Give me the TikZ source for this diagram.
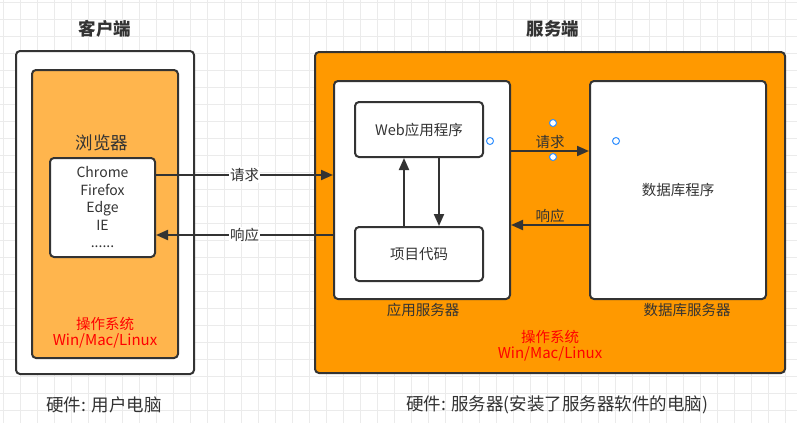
\documentclass[tikz,border=0pt]{standalone}
\usepackage{fontspec}
\setmainfont{Noto Sans CJK SC}
\usetikzlibrary{arrows.meta,positioning}
\definecolor{ink}{HTML}{333333}
\definecolor{gridc}{HTML}{EBEBEB}
\definecolor{lightorange}{HTML}{FFB54D}
\definecolor{deeporange}{HTML}{FF9900}
\definecolor{handle}{HTML}{2F8FFF}
\begin{document}
\begin{tikzpicture}[x=1pt,y=-1pt,
  box/.style={draw=ink,line width=2pt,rounded corners=4pt,fill=white,align=center,
    text=ink,inner sep=0pt},
  arr/.style={-{Triangle[length=12pt,width=10pt]},line width=2pt,draw=ink},
  lbl/.style={text=ink,font=\fontsize{14.5}{17}\selectfont,inner sep=1pt},
  big/.style={text=ink,font=\fontsize{17.5}{20}\selectfont},
  oslbl/.style={text=red,align=center,inner sep=0pt}
]
  \useasboundingbox (0,0) rectangle (797,423);
  \fill[white] (0,0) rectangle (797,423);
  \foreach \gx in {3.3,20.3,...,797} \draw[gridc,line width=0.8pt] (\gx,0) -- (\gx,423);
  \foreach \gy in {2.3,19.3,...,423} \draw[gridc,line width=0.8pt] (0,\gy) -- (797,\gy);

  \node[big,font=\bfseries\fontsize{17.5}{20}\selectfont] (ctitle) at (105,29) {客户端};
  \node[box,minimum width=178pt,minimum height=323pt] (client) at (105,212.5) {};
  \node[box,fill=lightorange,minimum width=146pt,minimum height=288pt] (clientos) at (105,214) {};
  \node[big] (brtitle) at (102,143) {浏览器};
  \node[box,minimum width=105pt,minimum height=99pt,font=\fontsize{14}{17.5}\selectfont] (browser) at (102.5,207.5)
    {Chrome\\Firefox\\Edge\\IE\\......};
  \node[oslbl,font=\fontsize{14.5}{16}\selectfont] (cos) at (105,324) {操作系统};
  \node[oslbl,font=\fontsize{15}{17}\selectfont] (cosname) at (105,341) {Win/Mac/Linux};
  \node[big] (chw) at (104,405) {硬件: 用户电脑};

  \node[big,font=\bfseries\fontsize{17.5}{20}\selectfont] (stitle) at (553,29) {服务端};
  \node[box,fill=deeporange,minimum width=470pt,minimum height=321pt] (server) at (550,212.5) {};
  \node[box,minimum width=176pt,minimum height=218pt] (appsrv) at (422,190) {};
  \node[box,minimum width=128pt,minimum height=55pt,font=\fontsize{14.5}{17}\selectfont] (webapp) at (419,129.5) {Web应用程序};
  \node[box,minimum width=128pt,minimum height=54pt,font=\fontsize{14.5}{17}\selectfont] (code) at (419,254) {项目代码};
  \node[box,minimum width=176pt,minimum height=218pt,font=\fontsize{14.5}{17}\selectfont] (dbsrv) at (678,190) {数据库程序};
  \node[lbl] (applbl) at (423,310) {应用服务器};
  \node[lbl] (dblbl) at (687,310) {数据库服务器};
  \node[oslbl,font=\fontsize{14.5}{16}\selectfont] (sos) at (550,337) {操作系统};
  \node[oslbl,font=\fontsize{15}{17}\selectfont] (sosname) at (550,354) {Win/Mac/Linux};
  \node[big] (shw) at (557,405) {硬件: 服务器(安装了服务器软件的电脑)};

  \coordinate (creq) at (0,175);
  \coordinate (cres) at (0,235);
  \coordinate (sreq) at (0,151);
  \coordinate (sres) at (0,225);
  \coordinate (up) at (404,0);
  \coordinate (down) at (439,0);

  \draw[arr] (browser.east |- creq) -- node[lbl,fill=white] {请求} (appsrv.west |- creq);
  \draw[arr] (appsrv.west |- cres) -- node[lbl,fill=white] {响应} (browser.east |- cres);
  \draw[arr] (appsrv.east |- sreq) -- node[lbl,above=0pt] {请求} (dbsrv.west |- sreq);
  \draw[arr] (dbsrv.west |- sres) -- node[lbl,above=0pt] {响应} (appsrv.east |- sres);
  \draw[arr] (code.north -| up) -- (webapp.south -| up);
  \draw[arr] (webapp.south -| down) -- (code.north -| down);

  \foreach \hx/\hy in {490/141,553/123,553/157,616/141}
    \draw[handle,fill=white,line width=1pt] (\hx,\hy) circle (3.5pt);
\end{tikzpicture}
\end{document}
